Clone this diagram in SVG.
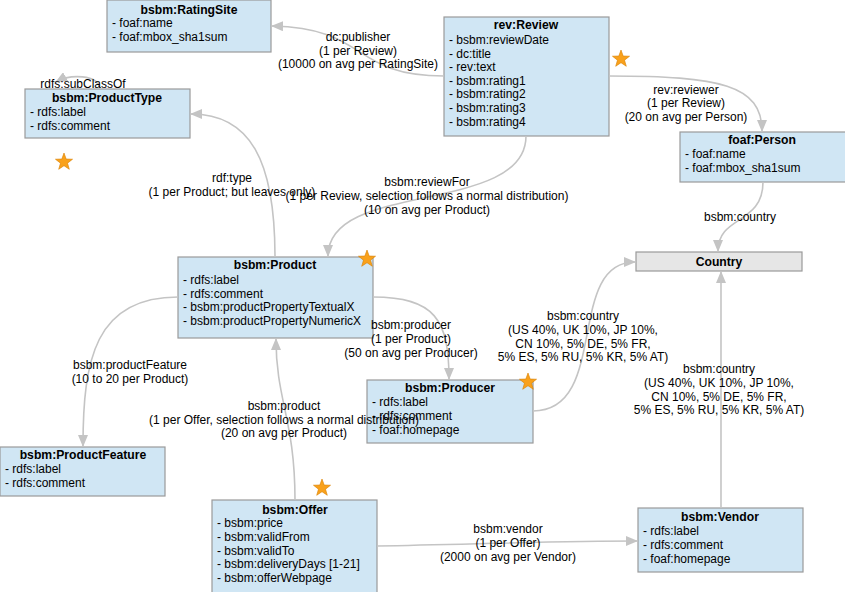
<svg xmlns="http://www.w3.org/2000/svg" xmlns:xlink="http://www.w3.org/1999/xlink" width="845" height="592" viewBox="0 0 845 592">
<style>
.box{fill:#d0e6f4;stroke:#9a9a9a;stroke-width:1.2}
.cbox{fill:#e6e6e6;stroke:#9a9a9a;stroke-width:1.2}
.t{font-family:"Liberation Sans",Arial,sans-serif;font-size:12.2px;font-weight:bold;text-anchor:middle;fill:#000}
.a{font-family:"Liberation Sans",Arial,sans-serif;font-size:12px;fill:#000}
.l{font-family:"Liberation Sans",Arial,sans-serif;font-size:12px;text-anchor:middle;fill:#000}
.c{fill:none;stroke:#c4c4c4;stroke-width:1.6;marker-end:url(#arr)}
.star{fill:#f9a11b;stroke:#d97f00;stroke-width:0.6}
</style>
<defs>
<marker id="arr" markerUnits="userSpaceOnUse" markerWidth="12" markerHeight="10" refX="11" refY="5" orient="auto">
<path d="M0,0 L12,5 L0,10 Z" fill="#c4c4c4"/>
</marker>
<polygon id="star" class="star" points="0,-9 2.17,-2.99 8.56,-2.78 3.52,1.14 5.29,7.28 0,3.7 -5.29,7.28 -3.52,1.14 -8.56,-2.78 -2.17,-2.99"/>
</defs>
<rect width="845" height="592" fill="#fff"/>

<g id="RatingSite">
<rect class="box" x="107" y="0" width="164" height="52"/>
<text class="t" x="189" y="14">bsbm:RatingSite</text>
<text class="a" x="112" y="27">- foaf:name</text>
<text class="a" x="112" y="41">- foaf:mbox_sha1sum</text>
</g>
<g id="ProductType">
<rect class="box" x="25" y="89" width="165" height="49"/>
<text class="t" x="107" y="102">bsbm:ProductType</text>
<text class="a" x="30" y="116">- rdfs:label</text>
<text class="a" x="30" y="130">- rdfs:comment</text>
</g>
<g id="Review">
<rect class="box" x="444" y="17" width="165" height="119"/>
<text class="t" x="526" y="29">rev:Review</text>
<text class="a" x="449" y="44">- bsbm:reviewDate</text>
<text class="a" x="449" y="57.6">- dc:title</text>
<text class="a" x="449" y="71.2">- rev:text</text>
<text class="a" x="449" y="84.8">- bsbm:rating1</text>
<text class="a" x="449" y="98.4">- bsbm:rating2</text>
<text class="a" x="449" y="112">- bsbm:rating3</text>
<text class="a" x="449" y="125.6">- bsbm:rating4</text>
</g>
<g id="Person">
<rect class="box" x="680" y="132" width="166" height="50"/>
<text class="t" x="762" y="144">foaf:Person</text>
<text class="a" x="685" y="158">- foaf:name</text>
<text class="a" x="685" y="172">- foaf:mbox_sha1sum</text>
</g>
<g id="Country">
<rect class="cbox" x="636" y="252" width="166" height="19"/>
<text class="t" x="719" y="266">Country</text>
</g>
<g id="Product">
<rect class="box" x="178" y="257" width="195" height="81"/>
<text class="t" x="275" y="269">bsbm:Product</text>
<text class="a" x="183" y="284">- rdfs:label</text>
<text class="a" x="183" y="298">- rdfs:comment</text>
<text class="a" x="183" y="311">- bsbm:productPropertyTextualX</text>
<text class="a" x="183" y="325">- bsbm:productPropertyNumericX</text>
</g>
<g id="ProductFeature">
<rect class="box" x="0" y="447" width="165" height="49"/>
<text class="t" x="83" y="459">bsbm:ProductFeature</text>
<text class="a" x="5" y="473">- rdfs:label</text>
<text class="a" x="5" y="487">- rdfs:comment</text>
</g>
<g id="Producer">
<rect class="box" x="367" y="380" width="166" height="63"/>
<text class="t" x="450" y="392">bsbm:Producer</text>
<text class="a" x="372" y="406">- rdfs:label</text>
<text class="a" x="372" y="420">- rdfs:comment</text>
<text class="a" x="372" y="434">- foaf:homepage</text>
</g>
<g id="Offer">
<rect class="box" x="212" y="500" width="165" height="93"/>
<text class="t" x="295" y="514">bsbm:Offer</text>
<text class="a" x="217" y="527">- bsbm:price</text>
<text class="a" x="217" y="541">- bsbm:validFrom</text>
<text class="a" x="217" y="555">- bsbm:validTo</text>
<text class="a" x="217" y="568">- bsbm:deliveryDays [1-21]</text>
<text class="a" x="217" y="582">- bsbm:offerWebpage</text>
</g>
<g id="Vendor">
<rect class="box" x="638" y="508" width="165" height="64"/>
<text class="t" x="720" y="521">bsbm:Vendor</text>
<text class="a" x="643" y="535">- rdfs:label</text>
<text class="a" x="643" y="549">- rdfs:comment</text>
<text class="a" x="643" y="563">- foaf:homepage</text>
</g>

<g id="stars">
<use xlink:href="#star" href="#star" x="621" y="59"/>
<use xlink:href="#star" href="#star" x="64" y="162"/>
<use xlink:href="#star" href="#star" x="367" y="259"/>
<use xlink:href="#star" href="#star" x="528" y="382"/>
<use xlink:href="#star" href="#star" x="322" y="488"/>
</g>

<g id="connectors">
<path class="c" d="M100,89 C98,74 70,74 56,82"/>
<path class="c" d="M444,76 C350,76 370,28 272,26"/>
<path class="c" d="M609,76 C720,76 762,85 762,131"/>
<path class="c" d="M763,182 C763,225 718,215 718,251"/>
<path class="c" d="M526,136 C526,215 328,180 328,256"/>
<path class="c" d="M275,257 C275,160 250,114 191,114"/>
<path class="c" d="M178,297 C95,297 83,360 83,446"/>
<path class="c" d="M373,297 C435,297 449,320 449,379"/>
<path class="c" d="M533,411 C610,411 565,262 635,262"/>
<path class="c" d="M721,508 L721,272"/>
<path class="c" d="M295,500 C295,420 276,400 276,339"/>
<path class="c" d="M377,546 C480,544 560,541 637,541"/>

<text class="l" x="83" y="88">rdfs:subClassOf</text>
<text class="l" x="358" y="41">dc:publisher</text>
<text class="l" x="358" y="55">(1 per Review)</text>
<text class="l" x="358" y="68">(10000 on avg per RatingSite)</text>
<text class="l" x="686" y="94">rev:reviewer</text>
<text class="l" x="686" y="107">(1 per Review)</text>
<text class="l" x="686" y="121">(20 on avg per Person)</text>
<text class="l" x="740" y="221">bsbm:country</text>
<text class="l" x="427" y="186">bsbm:reviewFor</text>
<text class="l" x="427" y="200">(1 per Review, selection follows a normal distribution)</text>
<text class="l" x="427" y="214">(10 on avg per Product)</text>
<text class="l" x="232" y="182">rdf:type</text>
<text class="l" x="232" y="196">(1 per Product; but leaves only)</text>
<text class="l" x="130" y="369">bsbm:productFeature</text>
<text class="l" x="130" y="383">(10 to 20 per Product)</text>
<text class="l" x="411" y="329">bsbm:producer</text>
<text class="l" x="411" y="343">(1 per Product)</text>
<text class="l" x="411" y="357">(50 on avg per Producer)</text>
<text class="l" x="583" y="320">bsbm:country</text>
<text class="l" x="583" y="334">(US 40%, UK 10%, JP 10%,</text>
<text class="l" x="583" y="348">CN 10%, 5% DE, 5% FR,</text>
<text class="l" x="583" y="361">5% ES, 5% RU, 5% KR, 5% AT)</text>
<text class="l" x="719" y="373">bsbm:country</text>
<text class="l" x="719" y="387">(US 40%, UK 10%, JP 10%,</text>
<text class="l" x="719" y="401">CN 10%, 5% DE, 5% FR,</text>
<text class="l" x="719" y="414">5% ES, 5% RU, 5% KR, 5% AT)</text>
<text class="l" x="284" y="410">bsbm:product</text>
<text class="l" x="284" y="424">(1 per Offer, selection follows a normal distribution)</text>
<text class="l" x="284" y="437">(20 on avg per Product)</text>
<text class="l" x="508" y="533">bsbm:vendor</text>
<text class="l" x="508" y="547">(1 per Offer)</text>
<text class="l" x="508" y="561">(2000 on avg per Vendor)</text>
</g>
</svg>
